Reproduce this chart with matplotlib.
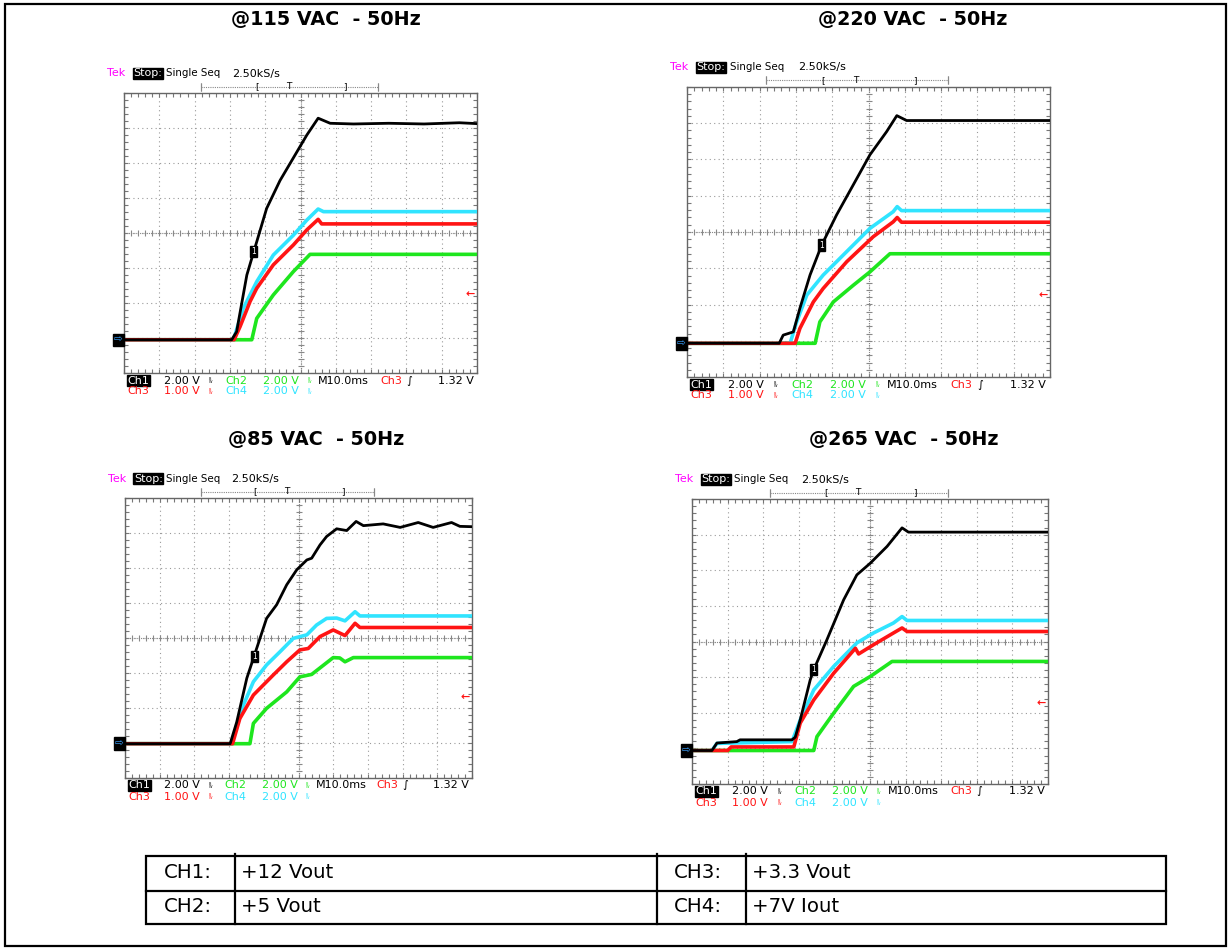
import numpy as np
import matplotlib.pyplot as plt
from matplotlib.ticker import MultipleLocator
from matplotlib.transforms import offset_copy

W, H = 1231, 950

# scope channel settings
ch_names = ['Ch1', 'Ch2', 'Ch3', 'Ch4']
ch_vdiv = [2.0, 2.0, 1.0, 2.0]
ch_colors = ['#000000', '#1ee61e', '#ff1414', '#30e4ff']
trig_level = 1.32   # V on Ch3
time_div = '10.0ms'
sample_rate = '2.50kS/s'

titles = ['@115 VAC  - 50Hz', '@220 VAC  - 50Hz', '@85 VAC  - 50Hz', '@265 VAC  - 50Hz']

table_rows = [['CH1:', '+12 Vout', 'CH3:', '+3.3 Vout'],
              ['CH2:', '+5 Vout', 'CH4:', '+7V Iout']]

# @115 VAC (time in ms, values in V)
t115_ch1 = [0, 30.5, 31.9, 34.8, 37.6, 40.4, 44.2, 48.0, 51.8, 55.0, 58.4, 65, 75, 85, 95, 100]
v115_ch1 = [0, 0, 0.46, 3.7, 5.6, 7.5, 9.1, 10.4, 11.7, 12.66, 12.37, 12.33, 12.37, 12.33, 12.40, 12.35]
t115_ch2 = [0, 36.2, 37.6, 42.3, 48, 52.7, 100]
v115_ch2 = [0, 0, 1.22, 2.56, 3.9, 4.88, 4.88]
t115_ch3 = [0, 31.2, 32.9, 35.7, 37.6, 42.3, 48, 51.8, 55, 56, 100]
v115_ch3 = [0, 0, 0.38, 1.09, 1.47, 2.14, 2.71, 3.14, 3.44, 3.31, 3.31]
t115_ch4 = [0, 31, 33.8, 37.6, 42.3, 48, 51.8, 55, 56.5, 100]
v115_ch4 = [0, 0, 1.8, 3.32, 4.84, 5.98, 6.84, 7.47, 7.32, 7.32]

# @220 VAC
t220_ch1 = [0, 25.4, 26.5, 29.3, 31.1, 33.9, 37.1, 41.2, 45.8, 50.4, 55.0, 57.8, 60.5, 100]
v220_ch1 = [0, 0, 0.45, 0.63, 1.93, 3.77, 5.42, 7.08, 8.74, 10.4, 11.68, 12.56, 12.29, 12.29]
t220_ch2 = [0, 35.3, 36.6, 40.3, 45.8, 50.4, 55.9, 100]
v220_ch2 = [0, 0, 1.18, 2.28, 3.2, 3.94, 4.94, 4.94]
t220_ch3 = [0, 29.8, 31.1, 34.8, 37.5, 44, 51.3, 56.8, 57.9, 59.1, 100]
v220_ch3 = [0, 0, 0.41, 1.14, 1.51, 2.25, 2.94, 3.35, 3.47, 3.34, 3.34]
t220_ch4 = [0, 28.4, 30.2, 33, 37.5, 44, 50.4, 56.8, 57.9, 59.1, 100]
v220_ch4 = [0, 0, 1.18, 2.66, 3.76, 5.06, 6.34, 7.26, 7.54, 7.32, 7.32]

# @85 VAC
t85_ch1 = [0, 30.3, 32.2, 35.1, 38.9, 40.8, 43.7, 46.6, 49.5, 52.4, 53.8, 56.2, 58.1, 61.0,
           63.9, 66.6, 68.7, 74.4, 79.3, 84.5, 88.8, 94.1, 96.5, 100]
v85_ch1 = [0, 0, 1.24, 3.74, 6.02, 7.16, 7.94, 9.08, 9.94, 10.5, 10.6, 11.36, 11.84, 12.28,
           12.18, 12.7, 12.46, 12.56, 12.36, 12.64, 12.36, 12.64, 12.42, 12.4]
t85_ch2 = [0, 36, 37, 40.8, 46.6, 50.4, 53.8, 60, 61.9, 63.4, 65.8, 100]
v85_ch2 = [0, 0, 1.16, 2.02, 2.96, 3.82, 3.96, 4.92, 4.9, 4.68, 4.92, 4.92]
t85_ch3 = [0, 31, 33.1, 37, 42.7, 46.6, 50.4, 52.8, 56.2, 60, 63.4, 66.3, 67.7, 100]
v85_ch3 = [0, 0, 0.72, 1.39, 1.96, 2.34, 2.68, 2.72, 3.06, 3.25, 3.09, 3.44, 3.32, 3.32]
t85_ch4 = [0, 30.7, 34.1, 37, 40.8, 44.7, 48.5, 52.4, 55.2, 58.1, 61, 63.4, 66.3, 67.7, 100]
v85_ch4 = [0, 0, 2.2, 3.54, 4.5, 5.26, 6.02, 6.22, 6.78, 7.16, 7.18, 7.02, 7.54, 7.3, 7.3]

# @265 VAC
t265_ch1 = [0, 5.6, 7, 12.6, 13.5, 28.1, 29, 30.4, 33.2, 34.2, 37.9, 42.6, 46.3, 50.1, 54.8, 59, 60.8, 100]
v265_ch1 = [0, 0, 0.42, 0.5, 0.6, 0.6, 0.75, 1.72, 3.96, 4.54, 6.22, 8.46, 9.86, 10.52, 11.46, 12.5, 12.26, 12.26]
t265_ch2 = [0, 34.2, 35.1, 39.8, 45.4, 50.1, 56.2, 100]
v265_ch2 = [0, 0, 0.78, 2.1, 3.6, 4.16, 5.0, 5.0]
t265_ch3 = [0, 10, 11, 28.6, 30.4, 34.2, 39.8, 45.9, 46.8, 51, 56.6, 59, 60.4, 100]
v265_ch3 = [0, 0, 0.1, 0.1, 0.77, 1.42, 2.17, 2.87, 2.71, 2.97, 3.3, 3.44, 3.34, 3.34]
t265_ch4 = [0, 5.6, 7, 28.1, 30.4, 34.2, 39.8, 46.3, 51, 56.6, 59, 60.4, 100]
v265_ch4 = [0, 0, 0.4, 0.5, 1.72, 3.4, 4.72, 6.04, 6.6, 7.16, 7.52, 7.3, 7.3]

# ground level of the channels (divisions from centre) and time of the Ch1 marker
gnd_levels = [-3.05, -3.07, -3.02, -3.06]
marker_times = [36.8, 37.1, 37.2, 34.2]

# axes boxes in pixels: x0, x1, top, bottom
boxes = [(124, 477, 93, 373), (687, 1050, 87, 377), (125, 472, 498, 778), (692, 1048, 499, 784)]
title_pos = [(326, 20), (913, 20), (316, 440), (904, 440)]

scopes = [
    [(t115_ch1, v115_ch1), (t115_ch2, v115_ch2), (t115_ch3, v115_ch3), (t115_ch4, v115_ch4)],
    [(t220_ch1, v220_ch1), (t220_ch2, v220_ch2), (t220_ch3, v220_ch3), (t220_ch4, v220_ch4)],
    [(t85_ch1, v85_ch1), (t85_ch2, v85_ch2), (t85_ch3, v85_ch3), (t85_ch4, v85_ch4)],
    [(t265_ch1, v265_ch1), (t265_ch2, v265_ch2), (t265_ch3, v265_ch3), (t265_ch4, v265_ch4)],
]

plt.rcParams['font.family'] = ['DejaVu Sans']
fig = plt.figure(figsize=(W / 100, H / 100), dpi=100)

# background layer in pixel coordinates: frame, titles, table
bg = fig.add_axes([0, 0, 1, 1])
bg.set_xlim(0, W)
bg.set_ylim(H, 0)
bg.axis('off')
bg.add_patch(plt.Rectangle((4.5, 4), 1221.5, 942, fill=False, lw=1.6, ec='black'))
for (tx, ty), title in zip(title_pos, titles):
    bg.text(tx, ty, title, ha='center', va='center', fontsize=13.8, fontweight='bold')

tl, tr, ttop, tbot, tmid = 146, 1166, 856, 924, 891
bg.add_patch(plt.Rectangle((tl, ttop), tr - tl, tbot - ttop, fill=False, lw=1.6, ec='black'))
bg.plot([tl, tr], [tmid, tmid], color='black', lw=1.6)
for cx in [235, 657, 746]:
    bg.plot([cx, cx], [ttop - 2, tbot], color='black', lw=1.6)
col_x = [164, 241, 674, 752]
row_y = [872, 906]
for ry, row in zip(row_y, table_rows):
    for cx, cell in zip(col_x, row):
        bg.text(cx, ry, cell, ha='left', va='center', fontsize=14.2)


def draw_scope(ax, traces, gnd, mark_t):
    ax.set_xlim(0, 100)
    ax.set_ylim(-4, 4)
    ax.xaxis.set_major_locator(MultipleLocator(10))
    ax.yaxis.set_major_locator(MultipleLocator(1))
    ax.xaxis.set_minor_locator(MultipleLocator(2))
    ax.yaxis.set_minor_locator(MultipleLocator(0.2))
    ax.tick_params(which='both', direction='in', top=True, right=True, length=3,
                   color='#777777', width=0.8, labelbottom=False, labelleft=False)
    for sp in ax.spines.values():
        sp.set_color('#666666')
        sp.set_linewidth(1.0)
    ax.grid(True, which='major', color='#9a9a9a', linestyle=(0, (1, 3)), lw=0.8)
    # centre cross with fine ticks
    ax.axhline(0, color='#888888', lw=0.8, ls=(0, (1, 1)))
    ax.axvline(50, color='#888888', lw=0.8, ls=(0, (1, 1)))
    ax.plot(np.arange(0, 100.1, 2), np.zeros(51), ls='none', marker='|', ms=4, color='#888888', mew=0.8)
    ax.plot(np.full(41, 50.0), np.arange(-4, 4.01, 0.2), ls='none', marker='_', ms=4, color='#888888', mew=0.8)

    for ch in [1, 3, 2, 0]:
        t, v = traces[ch]
        y = np.array(v) / ch_vdiv[ch] + gnd
        lw = 2.0 if ch == 0 else 2.6
        ax.plot(t, y, color=ch_colors[ch], lw=lw, solid_joinstyle='round', zorder=3 + (ch == 0))

    # Ch1 marker on the black trace
    t1, v1 = traces[0]
    ym = np.interp(mark_t, t1, v1) / ch_vdiv[0] + gnd
    ax.text(mark_t, ym, '1', color='white', fontsize=5.5, ha='center', va='center', zorder=6,
            bbox=dict(boxstyle='square,pad=0.15', fc='black', ec='black'))

    # ground marker and trigger level arrow
    ytr = ax.get_yaxis_transform()
    ax.text(-0.004, gnd, '\u21e8', transform=ytr, ha='right', va='center', color='#3aa0ff',
            fontsize=7.5, clip_on=False, bbox=dict(boxstyle='square,pad=0.12', fc='black', ec='black'))
    ax.text(0.995, trig_level / ch_vdiv[2] + gnd, '\u2190', transform=ytr, ha='right', va='center',
            color='#ff1414', fontsize=8, fontweight='bold')

    # header line
    fs = 8
    hdr = offset_copy(ax.transAxes, fig=fig, y=19.5, units='dots')
    ax.text(-0.048, 1, 'Tek', transform=hdr, color='#ff00ff', fontsize=fs, va='center')
    ax.text(0.026, 1, 'Stop:', transform=hdr, color='white', fontsize=fs, va='center',
            bbox=dict(boxstyle='square,pad=0.05', fc='black', ec='black'))
    ax.text(0.119, 1, 'Single Seq', transform=hdr, color='black', fontsize=7.4, va='center')
    ax.text(0.307, 1, sample_rate, transform=hdr, color='black', fontsize=fs, va='center')

    bar = offset_copy(ax.transAxes, fig=fig, y=6.5, units='dots')
    ax.plot([0.218, 0.719], [1, 1], transform=bar, color='#888888', lw=0.8, ls=(0, (1, 1)), clip_on=False)
    for bx in [0.218, 0.719]:
        ax.plot([bx, bx], [1, 1], transform=bar, marker='|', ms=6, color='#888888', mew=0.8, clip_on=False)
    for bx, s in [(0.376, '['), (0.466, 'T'), (0.627, ']')]:
        ax.text(bx, 1, s, transform=bar, ha='center', va='center', fontsize=6.5, color='black')

    # channel settings rows under the graticule
    r1 = offset_copy(ax.transAxes, fig=fig, y=-7.5, units='dots')
    r2 = offset_copy(ax.transAxes, fig=fig, y=-18.5, units='dots')
    bw = r'$^{\mathrm{B}}_{\mathrm{W}}$'
    bfs = 3.6
    ax.text(0.01, 0, ch_names[0], transform=r1, color='white', fontsize=fs, va='center',
            bbox=dict(boxstyle='square,pad=0.05', fc='black', ec='black'))
    ax.text(0.113, 0, '%.2f V' % ch_vdiv[0], transform=r1, color=ch_colors[0], fontsize=fs, va='center')
    ax.text(0.238, 0, bw, transform=r1, color=ch_colors[0], fontsize=bfs, va='center')
    ax.text(0.287, 0, ch_names[1], transform=r1, color=ch_colors[1], fontsize=fs, va='center')
    ax.text(0.394, 0, '%.2f V' % ch_vdiv[1], transform=r1, color=ch_colors[1], fontsize=fs, va='center')
    ax.text(0.518, 0, bw, transform=r1, color=ch_colors[1], fontsize=bfs, va='center')
    ax.text(0.55, 0, 'M' + time_div, transform=r1, color='black', fontsize=fs, va='center')
    ax.text(0.725, 0, ch_names[2], transform=r1, color=ch_colors[2], fontsize=fs, va='center')
    ax.text(0.80, 0, '\u222b', transform=r1, color='black', fontsize=fs, va='center')
    ax.text(0.99, 0, '%.2f V' % trig_level, transform=r1, color='black', fontsize=fs, va='center', ha='right')

    ax.text(0.01, 0, ch_names[2], transform=r2, color=ch_colors[2], fontsize=fs, va='center')
    ax.text(0.113, 0, '%.2f V' % ch_vdiv[2], transform=r2, color=ch_colors[2], fontsize=fs, va='center')
    ax.text(0.238, 0, bw, transform=r2, color=ch_colors[2], fontsize=bfs, va='center')
    ax.text(0.287, 0, ch_names[3], transform=r2, color=ch_colors[3], fontsize=fs, va='center')
    ax.text(0.394, 0, '%.2f V' % ch_vdiv[3], transform=r2, color=ch_colors[3], fontsize=fs, va='center')
    ax.text(0.518, 0, bw, transform=r2, color=ch_colors[3], fontsize=bfs, va='center')


for (x0, x1, top, bot), traces, gnd, mt in zip(boxes, scopes, gnd_levels, marker_times):
    ax = fig.add_axes([x0 / W, 1 - bot / H, (x1 - x0) / W, (bot - top) / H])
    draw_scope(ax, traces, gnd, mt)

fig.savefig('out.png', dpi=100)
